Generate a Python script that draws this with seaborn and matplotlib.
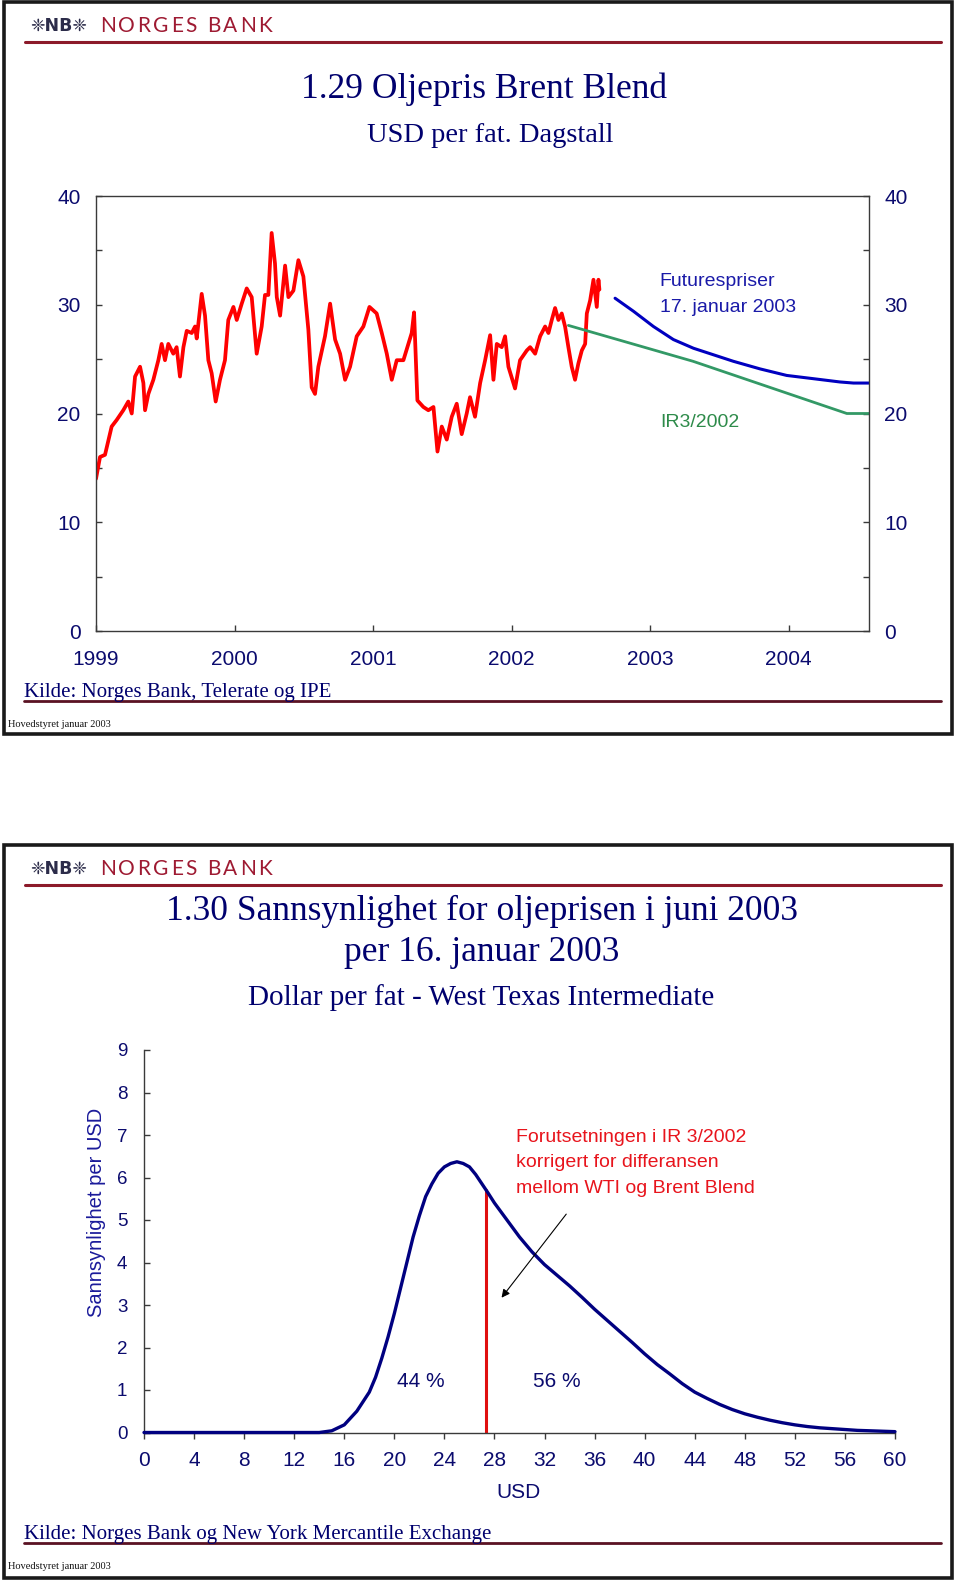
import numpy as np
import pandas as pd
import matplotlib
matplotlib.use("Agg")
import matplotlib.pyplot as plt
import seaborn as sns
from matplotlib.patches import Rectangle
from matplotlib.lines import Line2D
from matplotlib.ticker import MultipleLocator, FixedLocator, NullFormatter

# ---------------- data: chart 1.29 (Brent Blend, USD per barrel) ----------------
brent_year = [1999.000, 1999.029, 1999.065, 1999.113, 1999.149, 1999.197, 1999.233, 1999.258,
              1999.282, 1999.318, 1999.342, 1999.354, 1999.378, 1999.414, 1999.450, 1999.474,
              1999.498, 1999.522, 1999.558, 1999.582, 1999.606, 1999.631, 1999.655, 1999.691,
              1999.715, 1999.727, 1999.763, 1999.787, 1999.811, 1999.835, 1999.864, 1999.895,
              1999.931, 1999.955, 1999.992, 2000.016, 2000.052, 2000.088, 2000.124, 2000.160,
              2000.196, 2000.220, 2000.244, 2000.268, 2000.292, 2000.305, 2000.329, 2000.365,
              2000.389, 2000.425, 2000.461, 2000.497, 2000.533, 2000.557, 2000.581, 2000.605,
              2000.653, 2000.690, 2000.726, 2000.762, 2000.798, 2000.834, 2000.882, 2000.930,
              2000.974, 2001.026, 2001.063, 2001.099, 2001.135, 2001.171, 2001.219, 2001.255,
              2001.279, 2001.296, 2001.320, 2001.363, 2001.399, 2001.436, 2001.465, 2001.496,
              2001.532, 2001.568, 2001.604, 2001.640, 2001.676, 2001.700, 2001.736, 2001.773,
              2001.809, 2001.845, 2001.869, 2001.893, 2001.929, 2001.953, 2001.977, 2002.025,
              2002.061, 2002.110, 2002.134, 2002.170, 2002.206, 2002.242, 2002.266, 2002.290,
              2002.314, 2002.338, 2002.362, 2002.386, 2002.410, 2002.434, 2002.458, 2002.482,
              2002.507, 2002.531, 2002.543, 2002.567, 2002.591, 2002.615, 2002.627, 2002.634]
brent_usd = [14.0, 16.0, 16.2, 18.8, 19.4, 20.3, 21.1, 20.0,
             23.4, 24.3, 22.8, 20.3, 21.8, 23.1, 24.9, 26.4,
             24.9, 26.4, 25.5, 26.1, 23.4, 26.1, 27.6, 27.4,
             28.0, 26.9, 31.0, 29.0, 24.9, 23.7, 21.1, 23.1,
             24.9, 28.6, 29.8, 28.6, 30.1, 31.5, 30.7, 25.5,
             28.0, 30.9, 30.9, 36.6, 33.8, 30.7, 29.0, 33.6,
             30.7, 31.3, 34.1, 32.6, 27.7, 22.4, 21.8, 24.3,
             27.1, 30.1, 26.8, 25.5, 23.1, 24.3, 27.1, 28.0,
             29.8, 29.2, 27.4, 25.5, 23.1, 24.9, 24.9, 26.4,
             27.4, 29.3, 21.2, 20.6, 20.3, 20.6, 16.5, 18.8,
             17.6, 19.7, 20.9, 18.1, 20.0, 21.5, 19.7, 22.8,
             24.9, 27.2, 23.1, 26.4, 26.1, 27.1, 24.3, 22.3,
             24.9, 25.8, 26.1, 25.5, 27.1, 28.0, 27.4, 28.6,
             29.7, 28.6, 29.2, 28.0, 26.1, 24.3, 23.1, 24.6,
             25.8, 26.4, 29.2, 30.4, 32.3, 29.8, 32.3, 31.4]
futures_year = [2002.747, 2002.880, 2003.024, 2003.168, 2003.313, 2003.481, 2003.601,
                2003.794, 2003.986, 2004.179, 2004.370, 2004.468, 2004.580]
futures_usd = [30.6, 29.4, 28.0, 26.8, 26.0, 25.3, 24.8, 24.1, 23.5, 23.2, 22.9, 22.8, 22.8]
ir3_year = [2002.41, 2003.31, 2004.42, 2004.58]
ir3_usd = [28.1, 24.8, 20.0, 20.0]
year_ticks = [1999, 2000, 2001, 2002, 2003, 2004]

# ---------------- data: chart 1.30 (probability density, WTI June 2003) ----------------
usd_grid = [0, 4, 8, 12, 14, 15, 16, 17, 18, 18.5, 19, 19.5, 20, 20.5, 21, 21.5, 22, 22.5,
            23, 23.5, 24, 24.5, 25, 25.5, 26, 26.5, 27, 27.5, 28, 29, 30,
            31, 32, 33, 34, 35, 36, 37, 38, 39, 40, 41, 42, 43, 44, 45, 46, 47, 48, 49, 50,
            51, 52, 53, 54, 55, 56, 57, 58, 59, 60]
density = [0.0, 0.0, 0.0, 0.0, 0.0, 0.04, 0.18, 0.5, 0.95, 1.3, 1.75, 2.25, 2.8, 3.4, 4.0,
           4.6, 5.1, 5.55, 5.85, 6.1, 6.25, 6.33, 6.37, 6.33, 6.25, 6.07, 5.85, 5.63, 5.4,
           5.0, 4.6, 4.25, 3.95, 3.7, 3.45, 3.18, 2.9, 2.64, 2.38, 2.12,
           1.85, 1.6, 1.38, 1.15, 0.95, 0.8, 0.66, 0.54, 0.44, 0.36, 0.29, 0.23, 0.18, 0.14,
           0.11, 0.09, 0.07, 0.05, 0.04, 0.03, 0.02]
split_usd = 27.3
split_density = 5.72
share_labels = ["44 %", "56 %"]

# ---------------- style ----------------
sns.set_style("white")
plt.rcParams['font.family'] = ['Liberation Sans', 'DejaVu Sans']

NAVY = '#0b0b6e'
TITLE = '#00006e'
SPINE = '#3a3a3a'
DARKRED = '#8c1a2a'

W, H = 960, 1583
fig = plt.figure(figsize=(9.6, 15.83), dpi=100)


def fx(px):
    return px / W


def fy(py):
    return 1 - py / H


renderer = fig.canvas.get_renderer()


def spaced_text(x0, x1, ybase, s, size, color, family):
    widths = []
    for ch in s:
        if ch == ' ':
            widths.append(None)
            continue
        t = fig.text(0, 0, ch, fontsize=size, family=family)
        widths.append(t.get_window_extent(renderer).width)
        t.remove()
    space_w = size * 100 / 72 * 0.3
    natural = sum(w if w is not None else space_w for w in widths)
    gap = (x1 - x0 - natural) / (len(s) - 1)
    x = x0
    for ch, w in zip(s, widths):
        if w is None:
            x += space_w + gap
            continue
        fig.text(fx(x), fy(ybase), ch, fontsize=size, color=color, family=family,
                 ha='left', va='baseline')
        x += w + gap


def panel(top, bottom):
    fig.patches.append(Rectangle((fx(4), fy(bottom)), fx(952) - fx(4), (bottom - top) / H,
                                 transform=fig.transFigure, fill=False,
                                 edgecolor='#1a1a1a', lw=2.6))
    # logo
    fig.text(fx(30), fy(top + 29), "❈NB❈", fontsize=12.5, color='#2c2c4a',
             family=['DejaVu Sans'], ha='left', va='baseline', fontweight='bold')
    spaced_text(100, 272, top + 30.5, "NORGES BANK", 15, '#9e1a32', ['Lato', 'DejaVu Sans'])
    fig.lines.append(Line2D([fx(25), fx(941)], [fy(top + 40), fy(top + 40)],
                            transform=fig.transFigure, color=DARKRED, lw=2.2))


def footer(kilde_text, base):
    fig.text(fx(24), fy(base), kilde_text, fontsize=15, color=TITLE,
             family=['Liberation Serif'], ha='left', va='baseline')
    fig.lines.append(Line2D([fx(24), fx(941)], [fy(base + 3.5), fy(base + 3.5)],
                            transform=fig.transFigure, color='#5a1222', lw=2.0))
    fig.text(fx(8), fy(base + 30), "Hovedstyret januar 2003", fontsize=7.5, color='#111111',
             family=['Liberation Serif'], ha='left', va='baseline')


# =========================== Panel 1 ===========================
panel(2, 734)
fig.text(fx(484), fy(98), "1.29 Oljepris Brent Blend", fontsize=25.5, color=TITLE,
         family=['Liberation Serif'], ha='center', va='baseline')
fig.text(fx(490), fy(141.5), "USD per fat. Dagstall", fontsize=20.5, color=TITLE,
         family=['Liberation Serif'], ha='center', va='baseline')

ax1 = fig.add_axes([fx(96), fy(631), (869 - 96) / W, (631 - 196) / H])
sns.lineplot(x=brent_year, y=brent_usd, ax=ax1, color='#ff0000', lw=2.7,
             sort=False, estimator=None)
sns.lineplot(x=ir3_year, y=ir3_usd, ax=ax1, color='#339966', lw=2.0,
             sort=False, estimator=None)
sns.lineplot(x=futures_year, y=futures_usd, ax=ax1, color='#0000c0', lw=2.2,
             sort=False, estimator=None)
ax1.set_xlim(1999, 2004.58)
ax1.set_ylim(0, 40)
ax1.xaxis.set_major_locator(FixedLocator(year_ticks))
ax1.set_xticklabels([str(y) for y in year_ticks])
ax1.yaxis.set_major_locator(MultipleLocator(10))
ax1.yaxis.set_minor_locator(MultipleLocator(5))
ax1.yaxis.set_minor_formatter(NullFormatter())
ax1.tick_params(axis='both', which='both', direction='in', length=4, width=1, color=SPINE,
                labelcolor=NAVY, labelsize=15)
ax1.tick_params(axis='y', which='both', left=True, right=True, labelleft=True,
                labelright=True, pad=11)
ax1.tick_params(axis='x', which='both', bottom=True, top=False, pad=14)
for sp in ax1.spines.values():
    sp.set_color(SPINE)
    sp.set_linewidth(1.0)
ax1.set_xlabel('')
ax1.set_ylabel('')
ax1.text(2003.07, 31.7, "Futurespriser", fontsize=14, color='#1a1aa8', ha='left', va='baseline')
ax1.text(2003.07, 29.36, "17. januar 2003", fontsize=14, color='#1a1aa8', ha='left', va='baseline')
ax1.text(2003.07, 18.73, "IR3/2002", fontsize=14, color='#2e8b4a', ha='left', va='baseline')

footer("Kilde: Norges Bank, Telerate og IPE", 697)

# =========================== Panel 2 ===========================
panel(845, 1578)
fig.text(fx(482), fy(920), "1.30 Sannsynlighet for oljeprisen i juni 2003", fontsize=25.5,
         color=TITLE, family=['Liberation Serif'], ha='center', va='baseline')
fig.text(fx(482), fy(961.5), "per 16. januar 2003", fontsize=25.5,
         color=TITLE, family=['Liberation Serif'], ha='center', va='baseline')
fig.text(fx(481), fy(1005), "Dollar per fat - West Texas Intermediate", fontsize=21,
         color=TITLE, family=['Liberation Serif'], ha='center', va='baseline')

ax2 = fig.add_axes([fx(144), fy(1432.5), (895 - 144) / W, (1432.5 - 1050) / H])
sns.lineplot(x=usd_grid, y=density, ax=ax2, color='#000080', lw=2.4, sort=False,
             estimator=None, clip_on=False, zorder=3)
ax2.vlines(split_usd, 0, split_density, color='#e01010', lw=2.2, zorder=2)
ax2.set_xlim(0, 60)
ax2.set_ylim(0, 9)
ax2.xaxis.set_major_locator(MultipleLocator(4))
ax2.yaxis.set_major_locator(MultipleLocator(1))
ax2.tick_params(axis='x', direction='out', length=4, width=1, color=SPINE, labelcolor=NAVY,
                labelsize=15, pad=9, bottom=True)
ax2.tick_params(axis='y', direction='in', length=4, width=1, color=SPINE, labelcolor=NAVY,
                labelsize=13.5, pad=12, left=True)
for side in ['top', 'right']:
    ax2.spines[side].set_visible(False)
for side in ['left', 'bottom']:
    ax2.spines[side].set_color(SPINE)
    ax2.spines[side].set_linewidth(1.0)
ax2.set_xlabel('')
ax2.set_ylabel('')
ax2.text(22.1, 1.08, share_labels[0], fontsize=15, color=NAVY, ha='center', va='baseline')
ax2.text(33.0, 1.08, share_labels[1], fontsize=15, color=NAVY, ha='center', va='baseline')
red_note = ["Forutsetningen i IR 3/2002", "korrigert for differansen",
            "mellom WTI og Brent Blend"]
for i, line in enumerate(red_note):
    ax2.text(29.7, 6.84 - 0.6 * i, line, fontsize=14, color='#e8141c', ha='left',
             va='baseline')
ax2.annotate('', xy=(28.43, 3.12), xytext=(33.87, 5.19),
             arrowprops=dict(arrowstyle='-|>', color='black', lw=0.8, mutation_scale=12))

fig.text(fx(97), fy(1212), "Sannsynlighet per USD", fontsize=14.5, color='#1a1a9a',
         rotation=90, ha='center', va='center')
fig.text(fx(519), fy(1497.5), "USD", fontsize=15, color=NAVY, ha='center', va='baseline')

footer("Kilde: Norges Bank og New York Mercantile Exchange", 1539)

fig.savefig("out.png", dpi=100, facecolor='white')
